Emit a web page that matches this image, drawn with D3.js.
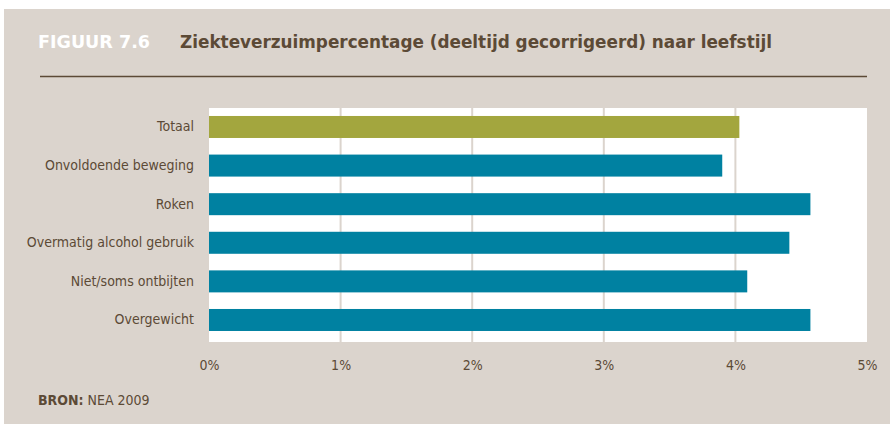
<!DOCTYPE html>
<html>
<head>
<meta charset="utf-8">
<script src="https://cdn.jsdelivr.net/npm/d3@7"></script>
<style>
  html, body { margin: 0; padding: 0; background: #ffffff; }
  svg { display: block; }
  text { font-family: "DejaVu Sans Condensed", "Liberation Sans Narrow", "Liberation Sans", sans-serif; }
</style>
</head>
<body>
<svg id="chart" width="890" height="424"></svg>
<script>
// Ziekteverzuim per leefstijlfactor
const categories = ["Totaal", "Onvoldoende beweging", "Roken", "Overmatig alcohol gebruik", "Niet/soms ontbijten", "Overgewicht"];
const values = [4.03, 3.90, 4.57, 4.41, 4.09, 4.57];
const highlight = ["Totaal"];
const tickValues = [0, 1, 2, 3, 4, 5];
const tickLabels = ["0%", "1%", "2%", "3%", "4%", "5%"];

const W = 890, H = 424;
const panel = { x: 4, y: 9 };
const plot = { left: 209, right: 867, top: 108, bottom: 342 };

const colBg = "#dbd4cd";
const colText = "#5c4a36";
const colBar = "#0081a1";
const colTotal = "#a3a63e";

const svg = d3.select("#chart");

svg.append("rect")
  .attr("x", panel.x).attr("y", panel.y)
  .attr("width", W - panel.x).attr("height", H - panel.y)
  .attr("fill", colBg);

// Header
svg.append("text")
  .attr("x", 38).attr("y", 48)
  .attr("fill", "#ffffff")
  .attr("font-size", 18).attr("font-weight", "bold")
  .attr("textLength", 112).attr("lengthAdjust", "spacingAndGlyphs")
  .text("FIGUUR 7.6");

svg.append("text")
  .attr("x", 180).attr("y", 48)
  .attr("fill", colText)
  .attr("font-size", 18).attr("font-weight", "bold")
  .attr("textLength", 592).attr("lengthAdjust", "spacingAndGlyphs")
  .text("Ziekteverzuimpercentage (deeltijd gecorrigeerd) naar leefstijl");

svg.append("line")
  .attr("x1", 40).attr("x2", 867)
  .attr("y1", 76.5).attr("y2", 76.5)
  .attr("stroke", colText).attr("stroke-width", 1.5);

// Scales
const x = d3.scaleLinear().domain([0, 5]).range([plot.left, plot.right]);
const y = d3.scaleBand().domain(categories).range([plot.top, plot.bottom])
  .paddingInner(0.43).paddingOuter(0.246).align(0.42);

// Plot area
svg.append("rect")
  .attr("x", plot.left).attr("y", plot.top)
  .attr("width", plot.right - plot.left).attr("height", plot.bottom - plot.top)
  .attr("fill", "#ffffff");

// Gridlines
svg.append("g")
  .selectAll("line")
  .data(tickValues.slice(1, -1))
  .join("line")
  .attr("x1", d => x(d)).attr("x2", d => x(d))
  .attr("y1", plot.top).attr("y2", plot.bottom)
  .attr("stroke", colBg).attr("stroke-width", 2);

// Bars
svg.append("g")
  .selectAll("rect")
  .data(categories.map((c, i) => ({ c, v: values[i] })))
  .join("rect")
  .attr("x", x(0))
  .attr("y", d => y(d.c))
  .attr("width", d => x(d.v) - x(0))
  .attr("height", y.bandwidth())
  .attr("fill", d => highlight.includes(d.c) ? colTotal : colBar);

// Category axis
const yAxis = svg.append("g")
  .attr("transform", `translate(${plot.left - 15},0)`)
  .call(d3.axisLeft(y).tickSize(0).tickPadding(0));
yAxis.select(".domain").remove();
yAxis.selectAll("text")
  .attr("fill", colText)
  .attr("font-size", 14)
  .attr("font-family", "\"DejaVu Sans Condensed\", \"Liberation Sans Narrow\", sans-serif");

// Value axis
const xAxis = svg.append("g")
  .attr("transform", `translate(0,${plot.bottom})`)
  .call(d3.axisBottom(x).tickValues(tickValues).tickFormat((d, i) => tickLabels[i]).tickSize(0).tickPadding(18));
xAxis.select(".domain").remove();
xAxis.selectAll("text")
  .attr("fill", colText)
  .attr("font-size", 14)
  .attr("font-family", "\"DejaVu Sans Condensed\", \"Liberation Sans Narrow\", sans-serif");

// Source
const src = svg.append("text")
  .attr("x", 38).attr("y", 405)
  .attr("fill", colText)
  .attr("font-size", 14);
src.append("tspan").attr("font-weight", "bold").text("BRON:");
src.append("tspan").text(" NEA 2009");
</script>
</body>
</html>
